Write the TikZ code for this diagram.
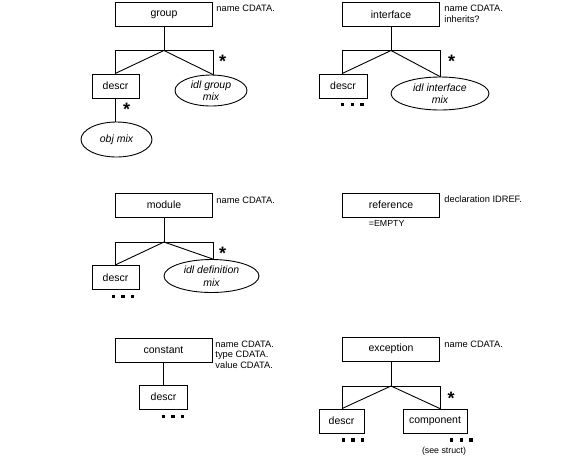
\documentclass[tikz,border=0pt]{standalone}
\usepackage{fontspec}
\setmainfont{Liberation Sans}
\usetikzlibrary{shapes.geometric, calc}

\tikzset{
	elem/.style={draw, minimum width=97pt, minimum height=24pt, inner sep=0pt, font=\fontsize{10.5}{12}\selectfont},
	sub/.style={draw, minimum height=24pt, inner sep=0pt, font=\fontsize{10.5}{12}\selectfont},
	mix/.style={draw, ellipse, inner sep=0pt, align=center, font=\fontsize{10.5}{12.5}\selectfont\itshape},
	attr/.style={anchor=north west, inner sep=0pt, align=left, font=\fontsize{9.3}{10.5}\selectfont},
	rep/.style={inner sep=0pt, text height=13pt, text depth=-7.7pt, font=\fontsize{18}{18}\selectfont\bfseries},
	note/.style={inner sep=0pt, font=\fontsize{8.8}{9}\selectfont},
}
% parent, left child, right child, y of the bar
\newcommand{\groupbar}[4]{%
	\coordinate (#1-v) at (#1.south |- 0,#4);
	\draw (#1.south) -- (#1-v);
	\draw (#2.north -| #1.west) -- (#1.west |- #1-v) -- (#1.east |- #1-v) -- (#3.north -| #1.east);
	\draw (#2.north -| #1.west) -- (#1-v) -- (#3.north -| #1.east);
}
\newcommand{\moretail}[1]{\foreach \k in {0,1,2} \fill ($(#1)+(\k*9.7,0)$) rectangle ++(3.3,3.3);}

\begin{document}
\begin{tikzpicture}[x=1pt, y=-1pt, line width=0.9pt]
	\useasboundingbox (0,0) rectangle (580,459);

	% group
	\node[elem] (group) at (164,14.5) {group};
	\node[attr] at (216,4.5) {name CDATA.};
	\node[sub, minimum width=47pt] (gdesc) at (115.5,86) {descr};
	\node[mix, minimum width=72pt, minimum height=31pt] (gmix) at (211,90.5) {idl group\\mix};
	\node[mix, minimum width=71pt, minimum height=35pt] (gobj) at (116.5,139.5) {obj mix};
	\groupbar{group}{gdesc}{gmix}{50.5}
	\draw (gdesc.south) -- (gdesc.south |- gobj.north);
	\node[rep] at (222.7,61) {*};
	\node[rep] at (126.7,109) {*};

	% interface
	\node[elem] (iface) at (391,14.5) {interface};
	\node[attr] at (444,5) {name CDATA.\\inherits?};
	\node[sub, minimum width=48pt] (idesc) at (343,86) {descr};
	\node[mix, minimum width=98pt, minimum height=33pt] (imix) at (440,93.5) {idl interface\\mix};
	\groupbar{iface}{idesc}{imix}{50.5}
	\node[rep] at (451.7,61) {*};
	\moretail{341,102.8}

	% module
	\node[elem] (module) at (164,205) {module};
	\node[attr] at (216,197) {name CDATA.};
	\node[sub, minimum width=47pt] (mdesc) at (115.5,277.5) {descr};
	\node[mix, minimum width=95pt, minimum height=33pt] (mmix) at (211.5,276) {idl definition\\mix};
	\groupbar{module}{mdesc}{mmix}{242}
	\node[rep] at (222.7,252.7) {*};
	\moretail{111.7,295}

	% reference
	\node[elem] (ref) at (391,205) {reference};
	\node[attr] at (444,195) {declaration IDREF.};
	\node[note] (empty) at (386.7,223.5) {=EMPTY};

	% constant
	\node[elem] (const) at (163.5,350) {constant};
	\node[attr] at (215,340.5) {name CDATA.\\type CDATA.\\value CDATA.};
	\node[sub, minimum width=48pt] (cdesc) at (163.5,397) {descr};
	\draw (const.south) -- (cdesc.north);
	\moretail{161.7,415}

	% exception
	\node[elem] (exc) at (391,349) {exception};
	\node[attr] at (444,340.5) {name CDATA.};
	\node[sub, minimum width=45pt] (edesc) at (341.5,421) {descr};
	\node[sub, minimum width=64pt] (ecomp) at (435,421) {component};
	\groupbar{exc}{edesc}{ecomp}{386}
	\node[rep] at (451,397.7) {*};
	\moretail{341.7,438.3}
	\moretail{450,438.3}
	\node[note] (seestruct) at (444,451) {(see struct)};
\end{tikzpicture}
\end{document}
